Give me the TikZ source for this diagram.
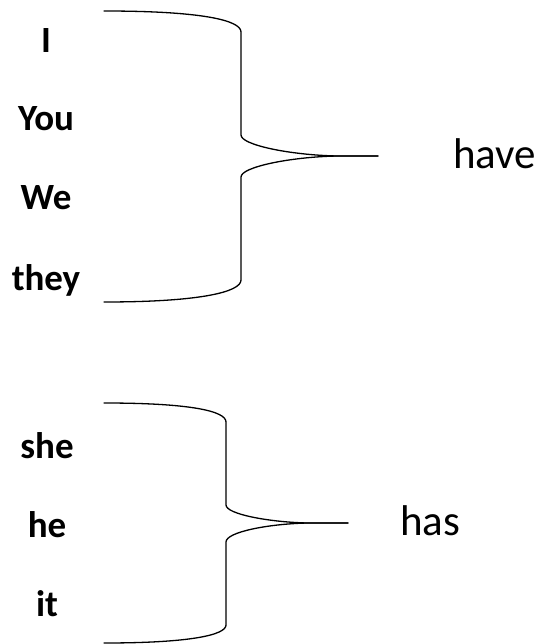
\documentclass[tikz,border=0pt]{standalone}
\usepackage{fontspec}
\setmainfont{Carlito}
\begin{document}
\begin{tikzpicture}[x=1pt,y=-1pt,
  brace/.style={line width=1.3pt,line join=round,line cap=round},
  pron/.style={anchor=base,inner sep=0pt,font=\bfseries\fontsize{37}{42}\selectfont},
  verb/.style={anchor=base west,inner sep=0pt,font=\fontsize{43}{48}\selectfont}]
\useasboundingbox (0,0) rectangle (545,644);
% first group
\node[pron] (i) at (46,53) {I};
\node[pron] (you) at (46,131) {You};
\node[pron] (we) at (46,210) {We};
\node[pron] (they) at (46,290) {they};
\coordinate (a1) at (104,11);
\coordinate (a2) at (241,32);
\coordinate (a3) at (241,135);
\coordinate (atip) at (337,156);
\coordinate (aend) at (378,156);
\coordinate (a4) at (241,177);
\coordinate (a5) at (241,280);
\coordinate (a6) at (104,302);
\draw[brace] (a1) .. controls (200,11) and (241,20) .. (a2) -- (a3)
  .. controls (241,145) and (290,155) .. (atip) -- (aend);
\draw[brace] (aend) -- (atip)
  .. controls (290,157) and (241,167) .. (a4) -- (a5)
  .. controls (241,292) and (200,302) .. (a6);
\node[verb] (have) at (453,169) {have};
% second group
\node[pron] (she) at (47,458) {she};
\node[pron] (he) at (47,537) {he};
\node[pron] (it) at (47,616) {it};
\coordinate (b1) at (104,403);
\coordinate (b2) at (226,422);
\coordinate (b3) at (226,505);
\coordinate (btip) at (307,523);
\coordinate (bend) at (348,523);
\coordinate (b4) at (226,542);
\coordinate (b5) at (226,625);
\coordinate (b6) at (104,643);
\draw[brace] (b1) .. controls (190,403) and (226,411) .. (b2) -- (b3)
  .. controls (226,514) and (268,522) .. (btip) -- (bend);
\draw[brace] (bend) -- (btip)
  .. controls (268,524) and (226,532) .. (b4) -- (b5)
  .. controls (226,635) and (190,643) .. (b6);
\node[verb] (has) at (400,535) {has};
\end{tikzpicture}
\end{document}
